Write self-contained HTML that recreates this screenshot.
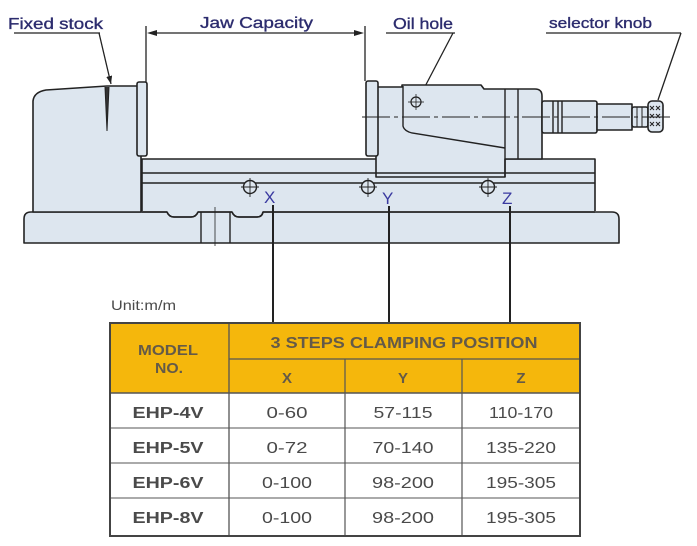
<!DOCTYPE html>
<html>
<head>
<meta charset="utf-8">
<style>
html,body{margin:0;padding:0;background:#fff;}
svg{display:block;}
.lbl{font-family:"Liberation Sans",sans-serif;fill:#2c2c6e;stroke:#2c2c6e;stroke-width:0.35;}
.pos{font-family:"Liberation Sans",sans-serif;fill:#3a3aa0;font-size:17px;}
.th{font-family:"Liberation Sans",sans-serif;fill:#645a48;font-weight:bold;}
.td{font-family:"Liberation Sans",sans-serif;fill:#4a4a4a;}
</style>
</head>
<body>
<svg width="697" height="546" viewBox="0 0 697 546" xmlns="http://www.w3.org/2000/svg">
<defs>
<marker id="ar" markerWidth="8" markerHeight="6" refX="8" refY="3" orient="auto" markerUnits="userSpaceOnUse">
<path d="M0,0 L8,3 L0,6 Z" fill="#222"/>
</marker>
</defs>

<!-- ===== Labels ===== -->
<text class="lbl" x="8" y="29" font-size="16" textLength="95" lengthAdjust="spacingAndGlyphs">Fixed stock</text>
<line x1="14" y1="33" x2="100" y2="33" stroke="#222" stroke-width="1.3"/>
<line x1="99" y1="33" x2="111" y2="84" stroke="#222" stroke-width="1.3" marker-end="url(#ar)"/>

<text class="lbl" x="200" y="28" font-size="16" textLength="113" lengthAdjust="spacingAndGlyphs">Jaw Capacity</text>
<line x1="146" y1="26" x2="146" y2="82" stroke="#222" stroke-width="1.3"/>
<line x1="365" y1="26" x2="365" y2="81" stroke="#222" stroke-width="1.3"/>
<line x1="156" y1="33" x2="356" y2="33" stroke="#222" stroke-width="1.2"/>
<path d="M147,33 L157,30 L157,36 Z" fill="#222"/>
<path d="M364,33 L354,30 L354,36 Z" fill="#222"/>

<text class="lbl" x="393" y="29" font-size="16" textLength="60" lengthAdjust="spacingAndGlyphs">Oil hole</text>
<line x1="386" y1="33" x2="455" y2="33" stroke="#222" stroke-width="1.3"/>
<line x1="453" y1="33" x2="420" y2="96" stroke="#222" stroke-width="1.3"/>

<text class="lbl" x="549" y="28" font-size="15" textLength="103" lengthAdjust="spacingAndGlyphs">selector knob</text>
<line x1="546" y1="33" x2="681" y2="33" stroke="#222" stroke-width="1.3"/>
<line x1="681" y1="33" x2="658" y2="100" stroke="#222" stroke-width="1.3"/>

<!-- ===== Vise drawing ===== -->
<!-- notch fills behind base -->
<rect x="166" y="210" width="33" height="9" fill="#dde6ef"/>
<rect x="231" y="210" width="33" height="9" fill="#dde6ef"/>
<g stroke="#222" stroke-width="1.6" fill="#dde6ef" stroke-linejoin="round">
  <!-- base -->
  <path d="M24,243 L24,219 Q24,212 31,212 L167,212 Q169,217 174,217 L191,217 Q196,217 198,212 L232,212 Q234,217 239,217 L257,217 Q262,217 263,212 L612,212 Q619,212 619,219 L619,243 Z"/>
</g>
<g stroke="#222" stroke-width="1.6" fill="#dde6ef" stroke-linejoin="round">
  <!-- rail -->
  <path d="M142,211 L142,159 L595,159 L595,211" />
</g>
<!-- restore notch curve lines over rail fill -->
<path d="M167,212 Q169,217 174,217 L191,217 Q196,217 198,212 M232,212 Q234,217 239,217 L257,217 Q262,217 263,212 M142,212 L167,212 M198,212 L232,212 M263,212 L595,212" stroke="#222" stroke-width="1.6" fill="none"/>
<g stroke="#222" stroke-width="1.6" fill="#dde6ef" stroke-linejoin="round">
  <!-- fixed body -->
  <path d="M33,212 L33,101 Q34,92 46,90 L107,86 L141,86 L141,212 Z"/>
  <!-- fixed jaw plate -->
  <rect x="137" y="82" width="10" height="74" rx="2"/>
  <!-- movable body -->
  <path d="M376,177 L376,87 L402,87 L402,85 L481,85 L484,89 L535,89 Q542,89 542,96 L542,159 L505,159 L505,177 Z"/>
  <!-- movable jaw plate -->
  <rect x="366" y="81" width="12" height="75" rx="2"/>
  <!-- shaft -->
  <rect x="542" y="101" width="55" height="32" rx="2"/>
  <rect x="597" y="104" width="35" height="26"/>
  <rect x="632" y="107" width="16" height="20" rx="2"/>
  <rect x="648" y="101" width="15" height="31" rx="4"/>
</g>
<g stroke="#222" stroke-width="1.4" fill="none">
  <!-- rail lines -->
  <line x1="142" y1="173" x2="595" y2="173"/>
  <line x1="142" y1="183" x2="595" y2="183"/>
  <!-- base vertical lines -->
  <line x1="201" y1="212" x2="201" y2="243"/>
  <line x1="230" y1="212" x2="230" y2="243"/>
  <line x1="215" y1="207" x2="215" y2="246" stroke-width="0.8"/>
  <!-- wedge mark on fixed body -->
  <path d="M105,87 L107,131 L109,87" stroke-width="1" fill="#333"/>
  <!-- movable inner -->
  <path d="M403,86 L403,126 Q404,131 412,133 L505,148"/>
  <line x1="505" y1="89" x2="505" y2="177"/>
  <line x1="518" y1="89" x2="518" y2="159"/>
  <!-- shaft lines -->
  <line x1="553" y1="101" x2="553" y2="133"/>
  <line x1="558" y1="101" x2="558" y2="133"/>
  <line x1="562" y1="101" x2="562" y2="133"/>
  <line x1="637" y1="107" x2="637" y2="127" stroke-width="1"/>
  <line x1="642" y1="107" x2="642" y2="127" stroke-width="1"/>
  <!-- knurl -->
  <path d="M650,106 l4,4 m0,-4 l-4,4 M656,106 l4,4 m0,-4 l-4,4 M650,114 l4,4 m0,-4 l-4,4 M656,114 l4,4 m0,-4 l-4,4 M650,122 l4,4 m0,-4 l-4,4 M656,122 l4,4 m0,-4 l-4,4" stroke-width="1"/>
  <!-- centerline -->
  <line x1="362" y1="117" x2="672" y2="117" stroke-width="0.9" stroke-dasharray="28,4,4,4"/>
  <!-- oil hole -->
  <circle cx="416" cy="102" r="5" stroke-width="1.2"/>
  <line x1="408" y1="102" x2="424" y2="102" stroke-width="0.8"/>
  <line x1="416" y1="94" x2="416" y2="110" stroke-width="0.8"/>
  <!-- position circles -->
  <circle cx="250" cy="187" r="6.5" fill="#dde6ef"/>
  <line x1="241" y1="187" x2="259" y2="187" stroke-width="0.9"/>
  <line x1="250" y1="178" x2="250" y2="197" stroke-width="0.9"/>
  <circle cx="368" cy="187" r="6.5" fill="#dde6ef"/>
  <line x1="359" y1="187" x2="377" y2="187" stroke-width="0.9"/>
  <line x1="368" y1="178" x2="368" y2="197" stroke-width="0.9"/>
  <circle cx="488" cy="187" r="6.5" fill="#dde6ef"/>
  <line x1="479" y1="187" x2="497" y2="187" stroke-width="0.9"/>
  <line x1="488" y1="178" x2="488" y2="197" stroke-width="0.9"/>
  <!-- connectors down to table -->
  <line x1="273" y1="205" x2="273" y2="323" stroke-width="2"/>
  <line x1="389" y1="206" x2="389" y2="323" stroke-width="2"/>
  <line x1="510" y1="206" x2="510" y2="323" stroke-width="2"/>
</g>
<text class="pos" x="264" y="203">X</text>
<text class="pos" x="382" y="204">Y</text>
<text class="pos" x="502" y="204">Z</text>

<!-- ===== Table ===== -->
<text class="td" x="111" y="310" font-size="14" textLength="65" lengthAdjust="spacingAndGlyphs" fill="#4a4a4a">Unit:m/m</text>

<rect x="110" y="323" width="470" height="70" fill="#f5b70c"/>
<rect x="110" y="393" width="470" height="143" fill="#ffffff"/>
<g stroke="#555" fill="none">
  <line x1="229" y1="359" x2="580" y2="359" stroke-width="1.2"/>
  <line x1="110" y1="393" x2="580" y2="393" stroke-width="1.5"/>
  <line x1="110" y1="428" x2="580" y2="428" stroke-width="1.2" stroke="#777"/>
  <line x1="110" y1="463" x2="580" y2="463" stroke-width="1.2" stroke="#777"/>
  <line x1="110" y1="498" x2="580" y2="498" stroke-width="1.2" stroke="#777"/>
  <line x1="229" y1="323" x2="229" y2="536" stroke-width="1.3"/>
  <line x1="345" y1="359" x2="345" y2="536" stroke-width="1.2"/>
  <line x1="462" y1="359" x2="462" y2="536" stroke-width="1.2"/>
  <rect x="110" y="323" width="470" height="213" stroke-width="2" stroke="#444"/>
</g>

<text class="th" x="168" y="355" font-size="15" text-anchor="middle" textLength="60" lengthAdjust="spacingAndGlyphs">MODEL</text>
<text class="th" x="169" y="373" font-size="15" text-anchor="middle" textLength="28" lengthAdjust="spacingAndGlyphs">NO.</text>
<text class="th" x="404" y="348" font-size="16" text-anchor="middle" textLength="267" lengthAdjust="spacingAndGlyphs">3 STEPS CLAMPING POSITION</text>
<text class="th" x="287" y="383" font-size="15" text-anchor="middle" font-weight="normal">X</text>
<text class="th" x="403" y="383" font-size="15" text-anchor="middle" font-weight="normal">Y</text>
<text class="th" x="521" y="383" font-size="15" text-anchor="middle" font-weight="normal">Z</text>

<g class="td" font-size="16">
  <text x="168" y="418" text-anchor="middle" font-weight="bold" textLength="71" lengthAdjust="spacingAndGlyphs">EHP-4V</text>
  <text x="168" y="453" text-anchor="middle" font-weight="bold" textLength="71" lengthAdjust="spacingAndGlyphs">EHP-5V</text>
  <text x="168" y="488" text-anchor="middle" font-weight="bold" textLength="71" lengthAdjust="spacingAndGlyphs">EHP-6V</text>
  <text x="168" y="523" text-anchor="middle" font-weight="bold" textLength="71" lengthAdjust="spacingAndGlyphs">EHP-8V</text>

  <text x="287" y="418" text-anchor="middle" textLength="41" lengthAdjust="spacingAndGlyphs">0-60</text>
  <text x="287" y="453" text-anchor="middle" textLength="41" lengthAdjust="spacingAndGlyphs">0-72</text>
  <text x="287" y="488" text-anchor="middle" textLength="50" lengthAdjust="spacingAndGlyphs">0-100</text>
  <text x="287" y="523" text-anchor="middle" textLength="50" lengthAdjust="spacingAndGlyphs">0-100</text>

  <text x="403" y="418" text-anchor="middle" textLength="59" lengthAdjust="spacingAndGlyphs">57-115</text>
  <text x="403" y="453" text-anchor="middle" textLength="61" lengthAdjust="spacingAndGlyphs">70-140</text>
  <text x="403" y="488" text-anchor="middle" textLength="62" lengthAdjust="spacingAndGlyphs">98-200</text>
  <text x="403" y="523" text-anchor="middle" textLength="62" lengthAdjust="spacingAndGlyphs">98-200</text>

  <text x="521" y="418" text-anchor="middle" textLength="64" lengthAdjust="spacingAndGlyphs">110-170</text>
  <text x="521" y="453" text-anchor="middle" textLength="70" lengthAdjust="spacingAndGlyphs">135-220</text>
  <text x="521" y="488" text-anchor="middle" textLength="70" lengthAdjust="spacingAndGlyphs">195-305</text>
  <text x="521" y="523" text-anchor="middle" textLength="70" lengthAdjust="spacingAndGlyphs">195-305</text>
</g>
</svg>
</body>
</html>
